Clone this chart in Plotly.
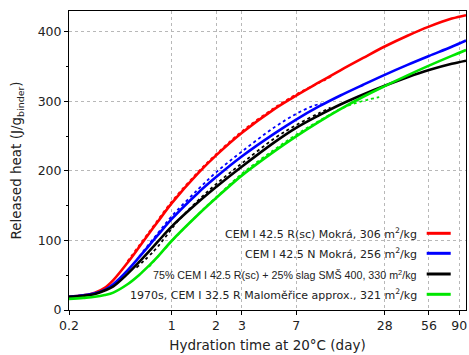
import numpy as np
import plotly.graph_objects as go

# ---- data ----
t_model = [0.2, 0.25, 0.3, 0.35, 0.4, 0.5, 0.6, 0.7, 0.8, 1, 1.5, 2, 3, 5, 7, 10, 14, 20, 28, 40, 56, 80, 100]
red_model = [19, 21, 25, 32, 43, 68, 90.5, 110, 126.5, 153.7, 196, 222.3, 254.9, 289.3, 308.3, 327.2, 344.7, 362.5, 378.9, 394.4, 407.5, 419.1, 424]
blue_model = [19, 21, 24, 29, 37, 56.9, 75.9, 92.7, 107.2, 131, 168, 191.1, 221, 253.9, 273.8, 292.7, 308.5, 324, 338.2, 352.5, 365.3, 378.5, 387.5]
black_model = [19, 20.5, 23, 28, 34, 52, 69, 84.3, 97.9, 120.2, 154.5, 176.8, 206.4, 241.5, 262, 280, 295.6, 310, 322.5, 334.8, 345, 354, 358.5]
green_model = [16, 17.5, 19, 21.5, 25, 37, 50.4, 63.8, 76.3, 99.6, 136.6, 161, 193.6, 228.5, 249.7, 270.6, 288.9, 306.7, 322, 337.5, 351.4, 365.4, 373.8]

t_red_meas = [0.5, 0.7, 1, 1.5, 2, 3, 5, 7, 9, 11, 12.4]
red_meas = [70, 112, 156, 198, 224, 257, 291, 310, 322, 331, 337]
t_blue_meas = [0.6, 0.8, 1, 1.5, 2, 3, 5, 7, 9, 10.4]
blue_meas = [77, 110, 135, 173, 198, 228, 263, 282, 293, 297]
t_black_meas = [0.575, 0.757, 0.905, 1.07, 1.5, 2, 3, 5, 7, 10, 12]
black_meas = [61, 85, 105, 125, 157, 181, 211, 247, 266, 283, 291]
t_green_meas = [0.7, 1, 1.5, 2, 3, 5, 7, 10, 14, 18, 22, 25.7]
green_meas = [62, 99, 137, 162, 196, 231, 252, 272, 289, 298, 303, 306]

names = [
    "CEM I 42.5 R(sc) Mokrá, 306 m<sup>2</sup>/kg",
    "CEM I 42.5 N Mokrá, 256 m<sup>2</sup>/kg",
    "75% CEM I 42.5 R(sc) + 25% slag SMŠ 400, 330 m<sup>2</sup>/kg",
    "1970s, CEM I 32.5 R Maloměřice approx., 321 m<sup>2</sup>/kg",
]
colors = ["#ff0000", "#0000ff", "#000000", "#00e600"]
x_tickvals = [0.2, 1, 2, 3, 7, 28, 56, 90]
x_ticktext = ["0.2", "1", "2", "3", "7", "28", "56", "90"]

models = [red_model, blue_model, black_model, green_model]
meas = [(t_red_meas, red_meas), (t_blue_meas, blue_meas),
        (t_black_meas, black_meas), (t_green_meas, green_meas)]

fig = go.Figure()
for (tm, vm), c, n in zip(meas, colors, names):
    fig.add_trace(go.Scatter(x=tm, y=vm, mode="lines",
                             line=dict(color=c, width=1.8, dash="dot", shape="spline", smoothing=1),
                             showlegend=False, hoverinfo="skip"))
for vals, c, n in zip(models, colors, names):
    fig.add_trace(go.Scatter(x=t_model, y=vals, mode="lines", name=n,
                             line=dict(color=c, width=2.6, shape="spline", smoothing=1), showlegend=False))

# custom legend (text right, line sample on the right)
row_y = [0.2565, 0.1896, 0.1204, 0.0525]
for n, c, yy, i in zip(names, colors, row_y, range(4)):
    fam = "Liberation Sans" if i == 2 else "DejaVu Sans"
    size = 10.7 if i == 2 else 11
    fig.add_annotation(xref="paper", yref="paper", x=0.8824, y=yy, text=n, showarrow=False,
                       xanchor="right", yanchor="middle", font=dict(family=fam, size=size, color="#222"))
    fig.add_shape(type="line", xref="paper", yref="paper", x0=0.901, x1=0.9615, y0=yy, y1=yy,
                  line=dict(color=c, width=3))

axis_common = dict(showline=True, linecolor="black", linewidth=1, mirror=True,
                   ticks="outside", ticklen=4, tickcolor="black",
                   showgrid=True, gridcolor="#b8b8b8", griddash="dot", gridwidth=1,
                   zeroline=False, tickfont=dict(family="DejaVu Sans", size=12.5, color="#222"))

fig.update_xaxes(type="log", range=[np.log10(0.2), 2], tickvals=x_tickvals, ticktext=x_ticktext,
                 title=dict(text="Hydration time at 20°C (day)", font=dict(family="DejaVu Sans", size=13.5, color="#222"),
                            standoff=8),
                 **axis_common)
fig.update_yaxes(range=[0, 430], tickvals=[0, 100, 200, 300, 400],
                 minor=dict(tickvals=[50, 150, 250, 350], ticks="outside", ticklen=2, tickcolor="black", showgrid=False),
                 title=dict(text="Released heat (J/g<sub>binder</sub>)",
                            font=dict(family="DejaVu Sans", size=13.5, color="#222"), standoff=12),
                 **axis_common)

fig.update_layout(width=469, height=355, margin=dict(l=69, r=3, t=11, b=45),
                  plot_bgcolor="white", paper_bgcolor="white",
                  font=dict(family="DejaVu Sans", size=12, color="#222"))

fig.write_html("out.html")
